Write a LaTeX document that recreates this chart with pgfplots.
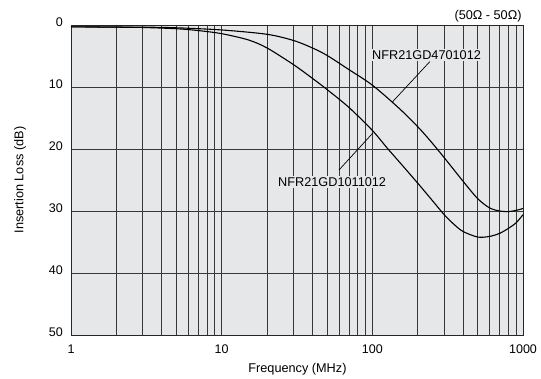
\documentclass[border=0pt]{standalone}
\usepackage{fontspec}
\setmainfont{Liberation Sans}
\usepackage{pgfplots}
\pgfplotsset{compat=1.18}
\definecolor{panel}{RGB}{230,231,232}
\definecolor{gridc}{RGB}{55,55,55}

\begin{document}
\fontsize{12.7}{15}\selectfont
\begin{tikzpicture}
\begin{axis}[
  name=ax,
  scale only axis,
  width=452pt, height=310pt,
  xmode=log, xmin=1, xmax=1000,
  ymin=0, ymax=50, y dir=reverse,
  xtick={1,10,100,1000}, xticklabels={1,10,100,1000},
  ytick={0,10,20,30,40,50}, yticklabels={0,10,20,30,40,50},
  major tick length=0pt, minor tick length=0pt,
  xmajorgrids, xminorgrids, ymajorgrids,
  grid style={gridc, line width=0.8pt},
  minor grid style={gridc, line width=0.8pt},
  major grid style={gridc, line width=0.8pt},
  axis background/.style={fill=panel},
  axis line style={black!85, line width=0.9pt},
  tick label style={font=\fontsize{12.5}{15}\selectfont},
  xticklabel style={inner sep=0pt, anchor=north, yshift=-9.5pt},
  yticklabel style={inner sep=0pt, anchor=east, xshift=-8pt, yshift=3pt},
  xlabel={Frequency (MHz)}, ylabel={Insertion Loss (dB)},
  every axis x label/.style={at={(axis description cs:0.501,-0.1097)}, anchor=center},
  every axis y label/.style={at={(axis description cs:-0.1128,0.5)}, rotate=90, anchor=center},
]
% NFR21GD1011012
\addplot[black, line width=1.1pt, smooth] coordinates {
(1,0.3) (2,0.35) (3,0.4) (5,0.6) (7,0.9) (10,1.4) (15,2.4) (20,3.7)
(30,6.4) (40,8.6) (50,10.4) (70,13.3) (100,17.0) (125,19.8) (150,22.0)
(200,25.5) (250,28.3) (300,30.6) (350,32.2) (400,33.3) (500,34.2) (600,34.1)
(700,33.6) (800,32.8) (900,31.9) (1000,30.6)};
% NFR21GD4701012
\addplot[black, line width=1.1pt, smooth] coordinates {
(1,0.3) (3,0.35) (5,0.45) (10,0.8) (20,1.5) (30,2.5) (40,3.7) (50,4.9)
(70,7.2) (100,9.7) (150,13.4) (200,16.4) (241,18.6) (300,21.4) (400,25.2)
(500,28.0) (600,29.5) (700,30.0) (800,30.1) (900,29.9) (1000,29.6)};
% leader lines
\addplot[black, line width=0.7pt] coordinates {(241,5.9) (136,12.4)};
\addplot[black, line width=0.7pt] coordinates {(60,23.4) (101,17.4)};
\node[fill=panel, inner sep=1.5pt] at (axis cs:229,4.84) {NFR21GD4701012};
\node[fill=panel, inner sep=1.5pt] at (axis cs:54.1,25.3) {NFR21GD1011012};
\end{axis}
\node[anchor=south east, inner sep=0pt, xshift=-1.3pt, yshift=3pt] at (ax.north east) {(50Ω - 50Ω)};
\pgfresetboundingbox
\path[use as bounding box] ([shift={(-71pt,-44pt)}]ax.south west) rectangle ([shift={(18pt,25pt)}]ax.north east);
\end{tikzpicture}
\end{document}
